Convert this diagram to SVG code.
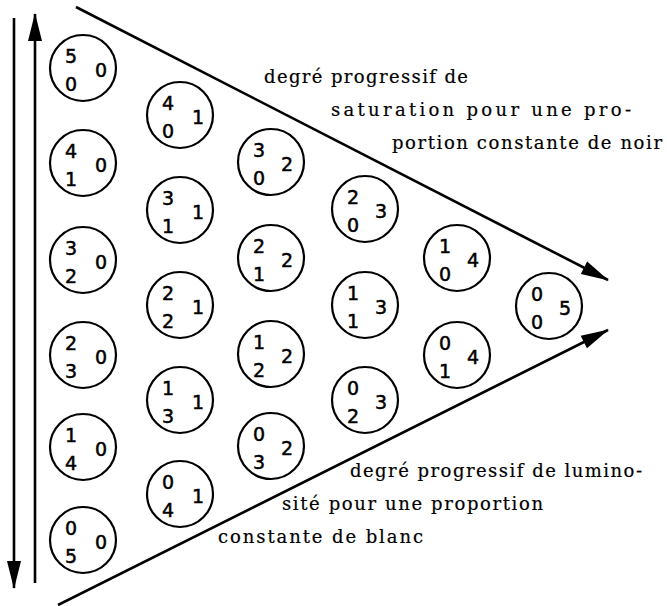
<svg xmlns="http://www.w3.org/2000/svg" width="667" height="606" viewBox="0 0 667 606">
<style>
.c{fill:none;stroke:#000;stroke-width:2.2}
.n{font-family:"DejaVu Sans","Liberation Sans",sans-serif;font-size:19px;fill:#000;stroke:#000;stroke-width:0.5;text-anchor:middle}
.t{font-family:"DejaVu Serif","Liberation Serif",serif;font-size:18px;fill:#000;stroke:#000;stroke-width:0.2}
.ln{fill:none;stroke:#000;stroke-width:2.6}
</style>
<defs>
<marker id="ah" markerUnits="userSpaceOnUse" markerWidth="28" markerHeight="14" refX="27" refY="7" orient="auto" style="overflow:visible">
<path d="M0,0 L28,7 L0,14 Z" fill="#000"/>
</marker>
</defs>
<rect width="667" height="606" fill="#fff"/>
<g id="connectors">
<line class="ln" x1="14" y1="18" x2="14" y2="588" marker-end="url(#ah)"/>
<line class="ln" x1="35" y1="583" x2="35" y2="14" marker-end="url(#ah)"/>
<line class="ln" x1="76" y1="7" x2="608" y2="280" marker-end="url(#ah)"/>
<line class="ln" x1="58" y1="605" x2="608" y2="330" marker-end="url(#ah)"/>
</g>
<g id="n500" transform="translate(83,68)"><circle class="c" r="33"/><text class="n" x="-12" y="-5">5</text><text class="n" x="-12" y="23">0</text><text class="n" x="18" y="9">0</text></g>
<g id="n410" transform="translate(83,163)"><circle class="c" r="33"/><text class="n" x="-12" y="-5">4</text><text class="n" x="-12" y="23">1</text><text class="n" x="18" y="9">0</text></g>
<g id="n320" transform="translate(83,260)"><circle class="c" r="33"/><text class="n" x="-12" y="-5">3</text><text class="n" x="-12" y="23">2</text><text class="n" x="18" y="9">0</text></g>
<g id="n230" transform="translate(83,355)"><circle class="c" r="33"/><text class="n" x="-12" y="-5">2</text><text class="n" x="-12" y="23">3</text><text class="n" x="18" y="9">0</text></g>
<g id="n140" transform="translate(83,447)"><circle class="c" r="33"/><text class="n" x="-12" y="-5">1</text><text class="n" x="-12" y="23">4</text><text class="n" x="18" y="9">0</text></g>
<g id="n050" transform="translate(83,540)"><circle class="c" r="33"/><text class="n" x="-12" y="-5">0</text><text class="n" x="-12" y="23">5</text><text class="n" x="18" y="9">0</text></g>
<g id="n401" transform="translate(180,115)"><circle class="c" r="33"/><text class="n" x="-12" y="-5">4</text><text class="n" x="-12" y="23">0</text><text class="n" x="18" y="9">1</text></g>
<g id="n311" transform="translate(180,210)"><circle class="c" r="33"/><text class="n" x="-12" y="-5">3</text><text class="n" x="-12" y="23">1</text><text class="n" x="18" y="9">1</text></g>
<g id="n221" transform="translate(180,305)"><circle class="c" r="33"/><text class="n" x="-12" y="-5">2</text><text class="n" x="-12" y="23">2</text><text class="n" x="18" y="9">1</text></g>
<g id="n131" transform="translate(180,400)"><circle class="c" r="33"/><text class="n" x="-12" y="-5">1</text><text class="n" x="-12" y="23">3</text><text class="n" x="18" y="9">1</text></g>
<g id="n041" transform="translate(180,494)"><circle class="c" r="33"/><text class="n" x="-12" y="-5">0</text><text class="n" x="-12" y="23">4</text><text class="n" x="18" y="9">1</text></g>
<g id="n302" transform="translate(271,162)"><circle class="c" r="33"/><text class="n" x="-12" y="-5">3</text><text class="n" x="-12" y="23">0</text><text class="n" x="16" y="9">2</text></g>
<g id="n212" transform="translate(271,258)"><circle class="c" r="33"/><text class="n" x="-12" y="-5">2</text><text class="n" x="-12" y="23">1</text><text class="n" x="16" y="9">2</text></g>
<g id="n122" transform="translate(271,354)"><circle class="c" r="33"/><text class="n" x="-12" y="-5">1</text><text class="n" x="-12" y="23">2</text><text class="n" x="16" y="9">2</text></g>
<g id="n032" transform="translate(271,446)"><circle class="c" r="33"/><text class="n" x="-12" y="-5">0</text><text class="n" x="-12" y="23">3</text><text class="n" x="16" y="9">2</text></g>
<g id="n203" transform="translate(365,209)"><circle class="c" r="33"/><text class="n" x="-12" y="-5">2</text><text class="n" x="-12" y="23">0</text><text class="n" x="16" y="9">3</text></g>
<g id="n113" transform="translate(365,305)"><circle class="c" r="33"/><text class="n" x="-12" y="-5">1</text><text class="n" x="-12" y="23">1</text><text class="n" x="16" y="9">3</text></g>
<g id="n023" transform="translate(365,400)"><circle class="c" r="33"/><text class="n" x="-12" y="-5">0</text><text class="n" x="-12" y="23">2</text><text class="n" x="16" y="9">3</text></g>
<g id="n104" transform="translate(457,258)"><circle class="c" r="33"/><text class="n" x="-12" y="-5">1</text><text class="n" x="-12" y="23">0</text><text class="n" x="16" y="9">4</text></g>
<g id="n014" transform="translate(457,355)"><circle class="c" r="33"/><text class="n" x="-12" y="-5">0</text><text class="n" x="-12" y="23">1</text><text class="n" x="16" y="9">4</text></g>
<g id="n005" transform="translate(549,306)"><circle class="c" r="33"/><text class="n" x="-12" y="-5">0</text><text class="n" x="-12" y="23">0</text><text class="n" x="16" y="9">5</text></g>
<g id="labels">
<text class="t" x="264" y="83" textLength="204" lengthAdjust="spacing">degré progressif de</text>
<text class="t" x="331" y="116" textLength="300" lengthAdjust="spacing">saturation pour une pro-</text>
<text class="t" x="392" y="149" textLength="270" lengthAdjust="spacing">portion constante de noir</text>
<text class="t" x="350" y="477" textLength="292" lengthAdjust="spacing">degré progressif de lumino-</text>
<text class="t" x="282" y="510" textLength="261" lengthAdjust="spacing">sité pour une proportion</text>
<text class="t" x="218" y="543" textLength="205" lengthAdjust="spacing">constante de blanc</text>
</g>
</svg>
